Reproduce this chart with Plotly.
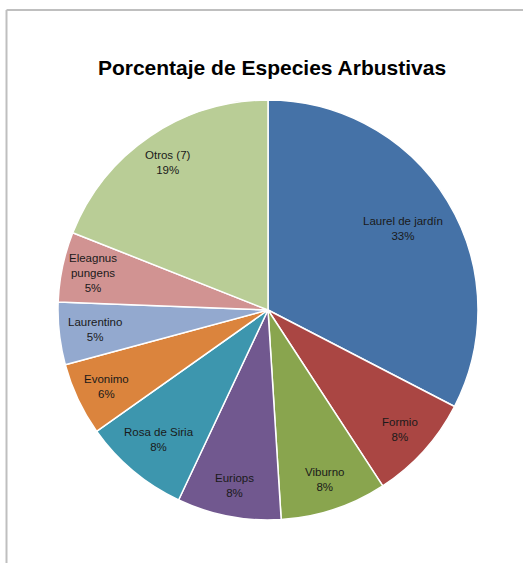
import numpy as np
import plotly.graph_objects as go

categories = ["Laurel de jardín", "Formio", "Viburno", "Euriops", "Rosa de Siria",
              "Evonimo", "Laurentino", "Eleagnus<br>pungens", "Otros (7)"]
values = [32.6, 8.2, 8.2, 8.0, 8.2, 5.6, 4.8, 5.4, 19.0]
colors = ["#4572A7", "#AA4643", "#89A54E", "#71588F", "#3D96AE",
          "#DB843D", "#93A9CF", "#D19392", "#B9CD96"]

W, H = 523, 563
cx, cy, R = 268, 310, 210
dom = dict(x=[(cx - R) / W, (cx + R) / W], y=[1 - (cy + R) / H, 1 - (cy - R) / H])
FONT = "Liberation Sans, Arial, sans-serif"
FS = 11.5

fig = go.Figure(go.Pie(
    labels=categories, values=values, sort=False, direction="clockwise", rotation=0,
    marker=dict(colors=colors, line=dict(color="white", width=1.5)),
    textinfo="none", hoverinfo="label+percent", showlegend=False, domain=dom,
))

# data labels placed near the rim of each slice ("best fit" style)
v = np.array(values, dtype=float)
frac = v / v.sum()
mid = (np.cumsum(frac) - frac / 2) * 2 * np.pi  # clockwise from 12 o'clock
annotations = []
for lab, f, a in zip(categories, frac, mid):
    lines = lab.split("<br>") + ["x"]
    hw = max(len(s) for s in lines[:-1]) * FS * 0.52 / 2
    hh = len(lines) * FS * 1.2 / 2
    r = 0.85 * R
    while r > 0.5 * R:
        x, y = r * np.sin(a), r * np.cos(a)
        if np.hypot(abs(x) + hw, abs(y) + hh) <= 0.985 * R:
            break
        r -= 1
    x, y = cx + r * np.sin(a), cy - r * np.cos(a)
    annotations.append(dict(
        text=f"{lab}<br>{round(f * 100):.0f}%", x=x / W, y=1 - y / H,
        xref="paper", yref="paper", xanchor="center", yanchor="middle",
        showarrow=False, font=dict(family=FONT, size=FS, color="#1a1a1a"),
    ))

fig.update_layout(
    width=W, height=H,
    margin=dict(l=0, r=0, t=0, b=0),
    paper_bgcolor="white",
    title=dict(text="<b>Porcentaje de Especies Arbustivas</b>",
               x=272 / W, xanchor="center", y=1 - 68 / H, yanchor="middle",
               font=dict(family=FONT, size=21, color="black")),
    annotations=annotations,
    shapes=[
        dict(type="line", xref="paper", yref="paper", x0=6.5 / W, x1=1.05, y0=1 - 10 / H, y1=1 - 10 / H,
             line=dict(color="#BFBFBF", width=2)),
        dict(type="line", xref="paper", yref="paper", x0=6.5 / W, x1=6.5 / W, y0=1 - 10 / H, y1=-0.05,
             line=dict(color="#BFBFBF", width=2)),
    ],
)

fig.write_html("out.html", config={"displayModeBar": False},
               post_script="document.body.style.margin='0';")
